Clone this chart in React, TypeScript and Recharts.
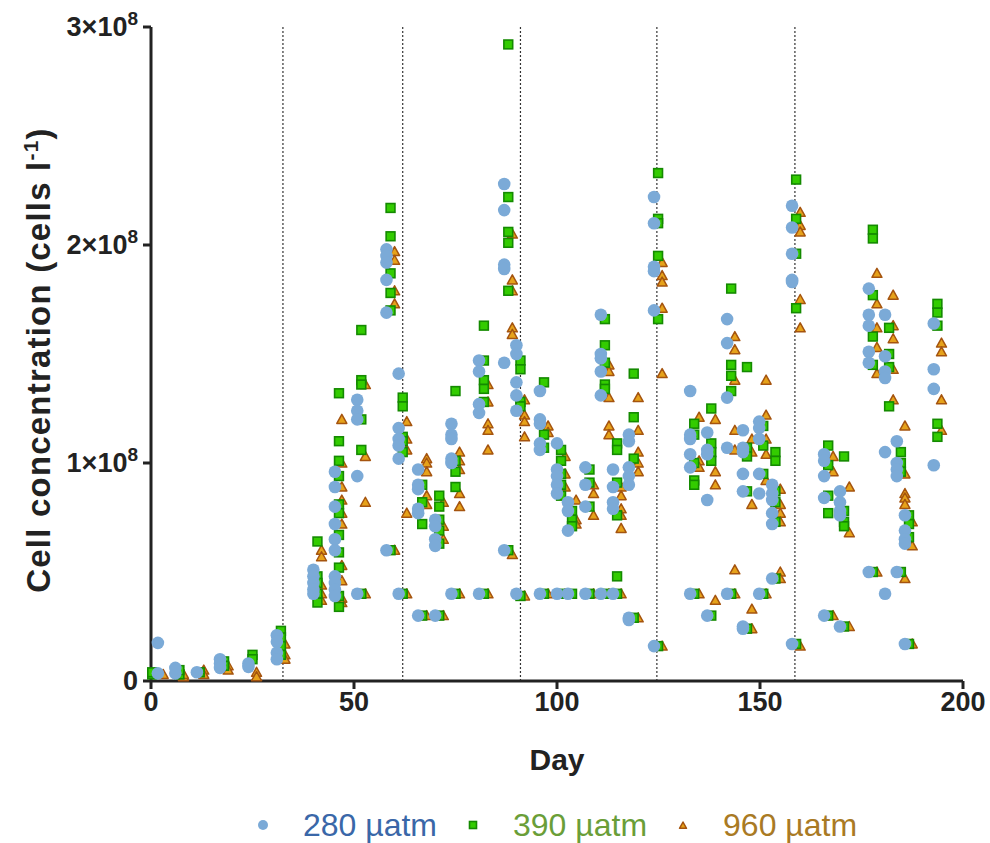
import { ScatterChart, Scatter, XAxis, YAxis, ReferenceLine, Legend } from "recharts";

// One entry per sampling event: day and cell counts in units of 10^8 cells per litre
type Sample = { day: number; v: number[] };

const samples280: Sample[] = [
  { day: 1.7, v: [0.035, 0.175] },
  { day: 6, v: [0.035, 0.06] },
  { day: 11.3, v: [0.04] },
  { day: 17, v: [0.1, 0.08, 0.06] },
  { day: 24, v: [0.08, 0.065] },
  { day: 31, v: [0.21, 0.18, 0.13, 0.1] },
  { day: 40, v: [0.51, 0.48, 0.45, 0.42, 0.4] },
  { day: 45.3, v: [0.96, 0.89, 0.8, 0.72, 0.65, 0.6, 0.48, 0.45, 0.42, 0.39] },
  { day: 50.8, v: [1.29, 1.24, 1.2, 0.94, 0.4] },
  { day: 58, v: [1.98, 1.95, 1.92, 1.84, 1.69, 0.6] },
  { day: 61, v: [1.41, 1.16, 1.11, 1.08, 1.02, 0.4] },
  { day: 65.8, v: [0.97, 0.9, 0.88, 0.79, 0.77, 0.3] },
  { day: 70, v: [0.74, 0.71, 0.65, 0.62, 0.3] },
  { day: 74, v: [1.18, 1.13, 1.11, 1.02, 1.0, 0.4] },
  { day: 80.8, v: [1.47, 1.42, 1.27, 1.23, 0.4] },
  { day: 87, v: [2.28, 2.16, 1.91, 1.89, 1.46, 0.6] },
  { day: 90, v: [1.54, 1.5, 1.37, 1.31, 1.24, 0.4] },
  { day: 95.8, v: [1.33, 1.2, 1.18, 1.09, 1.06, 0.4] },
  { day: 100, v: [1.09, 0.97, 0.94, 0.9, 0.86, 0.4] },
  { day: 102.7, v: [0.82, 0.78, 0.69, 0.4] },
  { day: 107, v: [0.98, 0.9, 0.8, 0.4] },
  { day: 110.8, v: [1.68, 1.5, 1.48, 1.42, 1.31, 0.4] },
  { day: 113.8, v: [0.97, 0.89, 0.82, 0.79, 0.4] },
  { day: 117.7, v: [1.13, 1.1, 0.98, 0.94, 0.9, 0.29, 0.28] },
  { day: 123.9, v: [2.22, 2.1, 1.9, 1.88, 1.7, 0.16] },
  { day: 132.8, v: [1.33, 1.13, 1.11, 1.04, 0.98, 0.4] },
  { day: 137, v: [1.14, 1.06, 1.04, 0.83, 0.3] },
  { day: 141.9, v: [1.66, 1.55, 1.3, 1.07, 0.4] },
  { day: 145.8, v: [1.15, 1.07, 1.05, 0.95, 0.87, 0.25, 0.24] },
  { day: 149.8, v: [1.19, 1.16, 1.11, 0.95, 0.86, 0.4] },
  { day: 153, v: [0.9, 0.86, 0.83, 0.77, 0.72, 0.47] },
  { day: 157.9, v: [2.18, 2.08, 1.96, 1.84, 1.83, 0.17] },
  { day: 165.8, v: [1.04, 1.01, 0.94, 0.84, 0.3] },
  { day: 169.7, v: [0.87, 0.82, 0.78, 0.76, 0.25] },
  { day: 176.8, v: [1.8, 1.68, 1.63, 1.51, 1.46, 0.5] },
  { day: 180.8, v: [1.68, 1.49, 1.42, 1.39, 1.05, 0.4] },
  { day: 183.7, v: [1.1, 1.0, 0.97, 0.94, 0.5] },
  { day: 185.7, v: [0.76, 0.69, 0.65, 0.63, 0.17] },
  { day: 192.8, v: [1.64, 1.43, 1.34, 0.99] },
];

const samples390: Sample[] = [
  { day: 0.3, v: [0.03, 0.04] },
  { day: 7, v: [0.03, 0.05] },
  { day: 12, v: [0.04] },
  { day: 18, v: [0.09, 0.07] },
  { day: 25, v: [0.12, 0.1] },
  { day: 32, v: [0.23, 0.2, 0.16, 0.12] },
  { day: 41, v: [0.64, 0.48, 0.45, 0.4, 0.36] },
  { day: 46.3, v: [1.32, 1.1, 1.01, 0.94, 0.81, 0.77, 0.67, 0.59, 0.52, 0.39, 0.34] },
  { day: 51.8, v: [1.61, 1.38, 1.36, 1.2, 1.06, 0.4] },
  { day: 59, v: [2.17, 2.04, 1.87, 1.78, 1.7, 0.6] },
  { day: 62, v: [1.3, 1.26, 1.12, 1.1, 1.05, 0.4] },
  { day: 66.8, v: [0.9, 0.82, 0.72, 0.3] },
  { day: 71, v: [0.85, 0.8, 0.74, 0.69, 0.63, 0.3] },
  { day: 75, v: [1.33, 1.01, 0.96, 0.89, 0.4] },
  { day: 82, v: [1.63, 1.47, 1.38, 1.34, 1.28, 0.4] },
  { day: 88, v: [2.92, 2.22, 2.06, 2.01, 1.79, 0.6] },
  { day: 91, v: [1.47, 1.43, 1.28, 1.26, 0.39] },
  { day: 96.8, v: [1.37, 1.13, 1.07, 0.4] },
  { day: 101, v: [1.06, 1.01, 0.95, 0.9, 0.85, 0.4] },
  { day: 103.7, v: [0.78, 0.74, 0.71, 0.4] },
  { day: 108, v: [0.97, 0.91, 0.8, 0.4] },
  { day: 111.8, v: [1.66, 1.54, 1.46, 1.36, 1.34, 0.4] },
  { day: 114.8, v: [1.09, 1.06, 0.91, 0.76, 0.48, 0.4] },
  { day: 118.9, v: [1.41, 1.21, 1.02, 0.29] },
  { day: 124.9, v: [2.33, 2.12, 2.1, 1.95, 1.66, 0.16] },
  { day: 133.8, v: [1.18, 1.13, 1.0, 0.92, 0.9, 0.4] },
  { day: 138, v: [1.25, 1.09, 1.05, 1.01, 0.3] },
  { day: 142.9, v: [1.8, 1.45, 1.4, 1.33, 0.4] },
  { day: 146.8, v: [1.44, 1.07, 1.03, 0.87, 0.24] },
  { day: 150.8, v: [1.17, 1.08, 0.95, 0.4] },
  { day: 153.8, v: [1.05, 1.01, 0.87, 0.82, 0.73, 0.47] },
  { day: 158.9, v: [2.3, 2.12, 1.96, 1.71, 0.17] },
  { day: 166.8, v: [1.08, 0.99, 0.85, 0.77, 0.3] },
  { day: 170.7, v: [1.03, 0.78, 0.73, 0.71, 0.25] },
  { day: 177.8, v: [2.07, 2.03, 1.77, 1.58, 1.45, 0.5] },
  { day: 181.8, v: [1.62, 1.5, 1.44, 1.26] },
  { day: 184.7, v: [1.05, 1.0, 0.96, 0.5] },
  { day: 186.7, v: [0.76, 0.72, 0.66, 0.17] },
  { day: 193.7, v: [1.73, 1.69, 1.63, 1.18, 1.12] },
];

const samples960: Sample[] = [
  { day: 3, v: [0.03] },
  { day: 8, v: [0.02, 0.03] },
  { day: 13, v: [0.05, 0.03] },
  { day: 19, v: [0.07, 0.05] },
  { day: 26, v: [0.04, 0.02] },
  { day: 33, v: [0.17, 0.12, 0.1] },
  { day: 42, v: [0.6, 0.57, 0.44, 0.4, 0.37] },
  { day: 47, v: [1.2, 1.0, 0.89, 0.83, 0.77, 0.72, 0.53, 0.46, 0.38, 0.36] },
  { day: 52.8, v: [1.36, 1.03, 0.82, 0.4] },
  { day: 60, v: [1.97, 1.93, 1.79, 1.73, 0.6] },
  { day: 63, v: [1.19, 1.11, 1.06, 0.77, 0.4] },
  { day: 67.9, v: [1.02, 1.0, 0.96, 0.85, 0.81, 0.3] },
  { day: 72, v: [0.82, 0.71, 0.65, 0.3] },
  { day: 76, v: [1.05, 1.01, 0.97, 0.86, 0.8, 0.4] },
  { day: 83, v: [1.36, 1.28, 1.18, 1.15, 1.06, 0.4] },
  { day: 89, v: [2.05, 1.84, 1.79, 1.62, 1.59, 0.58] },
  { day: 92, v: [1.29, 1.22, 1.19, 1.12, 0.39] },
  { day: 97.8, v: [1.17, 1.14, 0.4] },
  { day: 102, v: [1.03, 0.95, 0.89, 0.4] },
  { day: 104.7, v: [0.83, 0.74, 0.72] },
  { day: 109, v: [0.9, 0.86, 0.76, 0.4] },
  { day: 112.8, v: [1.45, 1.42, 1.3, 1.17, 1.13, 0.4] },
  { day: 115.8, v: [0.89, 0.85, 0.79, 0.76, 0.7, 0.4] },
  { day: 120, v: [1.3, 1.15, 1.05, 1.0, 0.96, 0.29] },
  { day: 125.9, v: [1.92, 1.86, 1.83, 1.71, 1.41, 0.16] },
  { day: 135, v: [1.21, 1.01, 0.98, 0.4] },
  { day: 139, v: [1.2, 0.96, 0.9, 0.37] },
  { day: 143.8, v: [1.58, 1.52, 1.38, 1.15, 1.06, 0.51, 0.4] },
  { day: 148, v: [1.11, 1.05, 0.81, 0.33, 0.24] },
  { day: 151.5, v: [1.38, 1.22, 1.11, 1.04, 0.92, 0.4] },
  { day: 155, v: [0.88, 0.81, 0.77, 0.73, 0.5, 0.47] },
  { day: 159.9, v: [2.15, 2.09, 2.06, 1.75, 1.62, 0.16] },
  { day: 168, v: [1.03, 0.96, 0.3] },
  { day: 172, v: [0.89, 0.68, 0.25] },
  { day: 178.8, v: [1.87, 1.73, 1.62, 1.53, 1.41, 0.5] },
  { day: 182.8, v: [1.77, 1.63, 1.57, 1.43, 1.29] },
  { day: 185.7, v: [1.17, 0.95, 0.86, 0.84, 0.81, 0.47] },
  { day: 187.5, v: [0.73, 0.62, 0.17] },
  { day: 194.7, v: [1.55, 1.51, 1.29, 1.15] },
];

const xTicks = [0, 50, 100, 150, 200];
const yTicks = [0, 1e8, 2e8, 3e8];
// days on which the cultures were diluted
const dilutionDays = [32.5, 62, 91, 124.6, 158.6];

const FONT = "'Liberation Sans', Arial, Helvetica, sans-serif";
const INK = "#222";

const flatten = (s: Sample[]) => s.flatMap(({ day, v }) => v.map((c) => ({ day, cells: c * 1e8 })));

const series = [
  { key: "280", name: "280 µatm", text: "#3A67A8", data: flatten(samples280) },
  { key: "390", name: "390 µatm", text: "#6A9E38", data: flatten(samples390) },
  { key: "960", name: "960 µatm", text: "#A97A24", data: flatten(samples960) },
];

const Dot = ({ cx, cy, r = 6.3 }: any) => <circle cx={cx} cy={cy} r={r} fill="#7BAAD7" />;

const Box = ({ cx, cy, s = 4.4 }: any) => (
  <rect x={cx - s} y={cy - s} width={s * 2} height={s * 2} fill="#33CC00" stroke="#148A00" strokeWidth={1.6} />
);

const Tri = ({ cx, cy, s = 5 }: any) => (
  <path
    d={`M${cx},${cy - s}L${cx + s},${cy + s * 0.8}L${cx - s},${cy + s * 0.8}Z`}
    fill="#E6A21A"
    stroke="#A5540F"
    strokeWidth={1.5}
    strokeLinejoin="round"
  />
);

const XTick = ({ x, y, payload }: any) => (
  <text x={x} y={y} dy="0.72em" textAnchor="middle" fontFamily={FONT} fontWeight={700} fontSize={27} fill={INK}>
    {payload.value}
  </text>
);

const YTick = ({ x, y, payload }: any) => {
  const m = payload.value / 1e8;
  return (
    <text x={x} y={y} dy={9} textAnchor="end" fontFamily={FONT} fontWeight={700} fontSize={27} fill={INK}>
      {m === 0 ? (
        "0"
      ) : (
        <>
          {m}×10
          <tspan dy={-11} fontSize={19}>
            8
          </tspan>
        </>
      )}
    </text>
  );
};

const XLabel = ({ viewBox }: any) => (
  <text
    x={viewBox.x + viewBox.width / 2}
    y={viewBox.y + 89}
    textAnchor="middle"
    fontFamily={FONT}
    fontWeight={700}
    fontSize={30}
    fill={INK}
  >
    Day
  </text>
);

const YLabel = ({ viewBox }: any) => {
  const cx = 50;
  const cy = viewBox.y + viewBox.height / 2 + 6;
  return (
    <text
      transform={`translate(${cx},${cy}) rotate(-90)`}
      textAnchor="middle"
      fontFamily={FONT}
      fontWeight={700}
      fontSize={33}
      letterSpacing={1.2}
      fill={INK}
    >
      Cell concentration (cells l
      <tspan dy={-12} fontSize={21}>
        -1
      </tspan>
      <tspan dy={12}>)</tspan>
    </text>
  );
};

const legendIcons: Record<string, JSX.Element> = {
  "280": <Dot cx={6} cy={6} r={5} />,
  "390": <Box cx={6} cy={6} s={3.5} />,
  "960": <Tri cx={6} cy={6.5} s={3.5} />,
};

const LegendBox = () => (
  <div
    style={{
      display: "flex",
      justifyContent: "center",
      alignItems: "center",
      paddingTop: 28,
      height: 36,
      fontFamily: FONT,
      fontSize: 32,
    }}
  >
    {series.map((s, i) => (
      <div key={s.key} style={{ display: "flex", alignItems: "center", marginLeft: i ? 30 : 0 }}>
        <svg width={12} height={12}>
          {legendIcons[s.key]}
        </svg>
        <span style={{ color: s.text, marginLeft: 34, lineHeight: "36px" }}>{s.name}</span>
      </div>
    ))}
  </div>
);

export default function App() {
  const [blue, green, orange] = series;
  return (
    <div style={{ position: "absolute", left: 0, top: 0, background: "#fff" }}>
      <ScatterChart width={990} height={843} margin={{ top: 27, right: 27, bottom: 0, left: 0 }}>
        <XAxis
          type="number"
          dataKey="day"
          domain={[0, 200]}
          ticks={xTicks}
          interval={0}
          height={98}
          tick={<XTick />}
          tickSize={8}
          tickMargin={3}
          axisLine={{ stroke: INK, strokeWidth: 3 }}
          tickLine={{ stroke: INK, strokeWidth: 3 }}
          label={<XLabel />}
        />
        <YAxis
          type="number"
          dataKey="cells"
          domain={[0, 3e8]}
          ticks={yTicks}
          interval={0}
          width={151}
          tick={<YTick />}
          tickSize={8}
          tickMargin={5}
          axisLine={{ stroke: INK, strokeWidth: 3 }}
          tickLine={{ stroke: INK, strokeWidth: 3 }}
          label={<YLabel />}
        />
        {dilutionDays.map((d) => (
          <ReferenceLine key={d} x={d} stroke="#333" strokeWidth={1.2} strokeDasharray="2 2" />
        ))}
        <Legend verticalAlign="bottom" height={64} content={<LegendBox />} wrapperStyle={{ left: 151, width: 812 }} />
        <Scatter name={orange.name} data={orange.data} shape={<Tri />} isAnimationActive={false} />
        <Scatter name={green.name} data={green.data} shape={<Box />} isAnimationActive={false} />
        <Scatter name={blue.name} data={blue.data} shape={<Dot />} isAnimationActive={false} />
      </ScatterChart>
    </div>
  );
}
